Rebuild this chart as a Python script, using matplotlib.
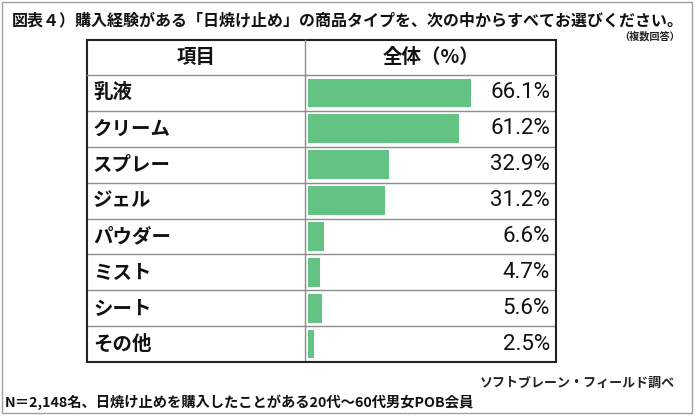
import numpy as np
import matplotlib.pyplot as plt
import matplotlib.transforms as mtransforms
from matplotlib.patches import Rectangle

plt.rcParams['font.family'] = ['Noto Sans CJK JP', 'DejaVu Sans']

# Data
items = ["乳液", "クリーム", "スプレー", "ジェル", "パウダー", "ミスト", "シート", "その他"]
values = [66.1, 61.2, 32.9, 31.2, 6.6, 4.7, 5.6, 2.5]

title = "図表４）購入経験がある「日焼け止め」の商品タイプを、次の中からすべてお選びください。"
note_multi = "（複数回答）"
col_item = "項目"
col_total = "全体（%）"
source = "ソフトブレーン・フィールド調べ"
footnote = "N＝2,148名、日焼け止めを購入したことがある20代～60代男女POB会員"

BAR_COLOR = "#63c384"
W, H = 700, 420

fig = plt.figure(figsize=(7, 4.2), dpi=100)


def fx(px):
    return px / W


def fy(py):
    return 1 - py / H


# outer frame
fig.patches.append(Rectangle((fx(2), fy(413)), fx(690), (411) / H,
                             transform=fig.transFigure, fill=False,
                             edgecolor="#a0a0a0", lw=1))

# table geometry (pixels)
t_left, t_right = 87, 556
t_top, h_bottom, t_bottom = 40, 75, 362
div_x = 305
bar0 = 308
px_per = 163 / 66.1

ax = fig.add_axes([fx(t_left), fy(t_bottom), fx(t_right - t_left),
                   (t_bottom - h_bottom) / H])
y = np.arange(len(items))
ax.barh(y, values, height=0.8, left=0, color=BAR_COLOR)
ax.set_xlim(-(bar0 - t_left) / px_per, (t_right - bar0) / px_per)
ax.set_ylim(len(items) - 0.5, -0.5)
ax.set_xticks([])
ax.set_yticks([])
for s in ax.spines.values():
    s.set_visible(False)

for i in range(1, len(items)):
    ax.axhline(i - 0.5, color="#8c8c8c", lw=1)
ax.axvline((div_x - bar0) / px_per, color="#8c8c8c", lw=1)

trans = mtransforms.blended_transform_factory(ax.transAxes, ax.transData)
for i, (name, v) in enumerate(zip(items, values)):
    ax.text((93 - t_left) / (t_right - t_left), i, name, transform=trans,
            ha="left", va="center", fontsize=14, fontweight="bold",
            color="#111111")
    ax.text((550 - t_left) / (t_right - t_left), i, f"{v}%", transform=trans,
            ha="right", va="center", fontsize=16, family=["Roboto", "DejaVu Sans"],
            color="#111111")

# header
fig.lines.append(plt.Line2D([fx(t_left), fx(t_right)], [fy(h_bottom)] * 2,
                            transform=fig.transFigure, color="#8c8c8c", lw=1))
fig.lines.append(plt.Line2D([fx(div_x)] * 2, [fy(t_top), fy(h_bottom)],
                            transform=fig.transFigure, color="#8c8c8c", lw=1))
fig.patches.append(Rectangle((fx(t_left), fy(t_bottom)), fx(t_right - t_left),
                             (t_bottom - t_top) / H, transform=fig.transFigure,
                             fill=False, edgecolor="#222222", lw=1.5))
fig.text(fx((t_left + div_x) / 2), fy((t_top + h_bottom) / 2), col_item,
         ha="center", va="center", fontsize=14, fontweight="bold", color="#111111")
fig.text(fx((div_x + t_right) / 2), fy((t_top + h_bottom) / 2), col_total,
         ha="center", va="center", fontsize=14, fontweight="bold", color="#111111")

# titles and notes
fig.text(fx(12), fy(20), title, ha="left", va="center", fontsize=11.5,
         fontweight="bold", color="#111111")
fig.text(fx(680), fy(37), note_multi, ha="right", va="center", fontsize=7.3,
         fontweight="bold", color="#222222")
fig.text(fx(675), fy(383), source, ha="right", va="center", fontsize=9.35,
         fontweight="bold", color="#222222")
fig.text(fx(5), fy(402), footnote, ha="left", va="center", fontsize=10.3,
         fontweight="bold", color="#111111")

fig.savefig("out.png", dpi=100)
